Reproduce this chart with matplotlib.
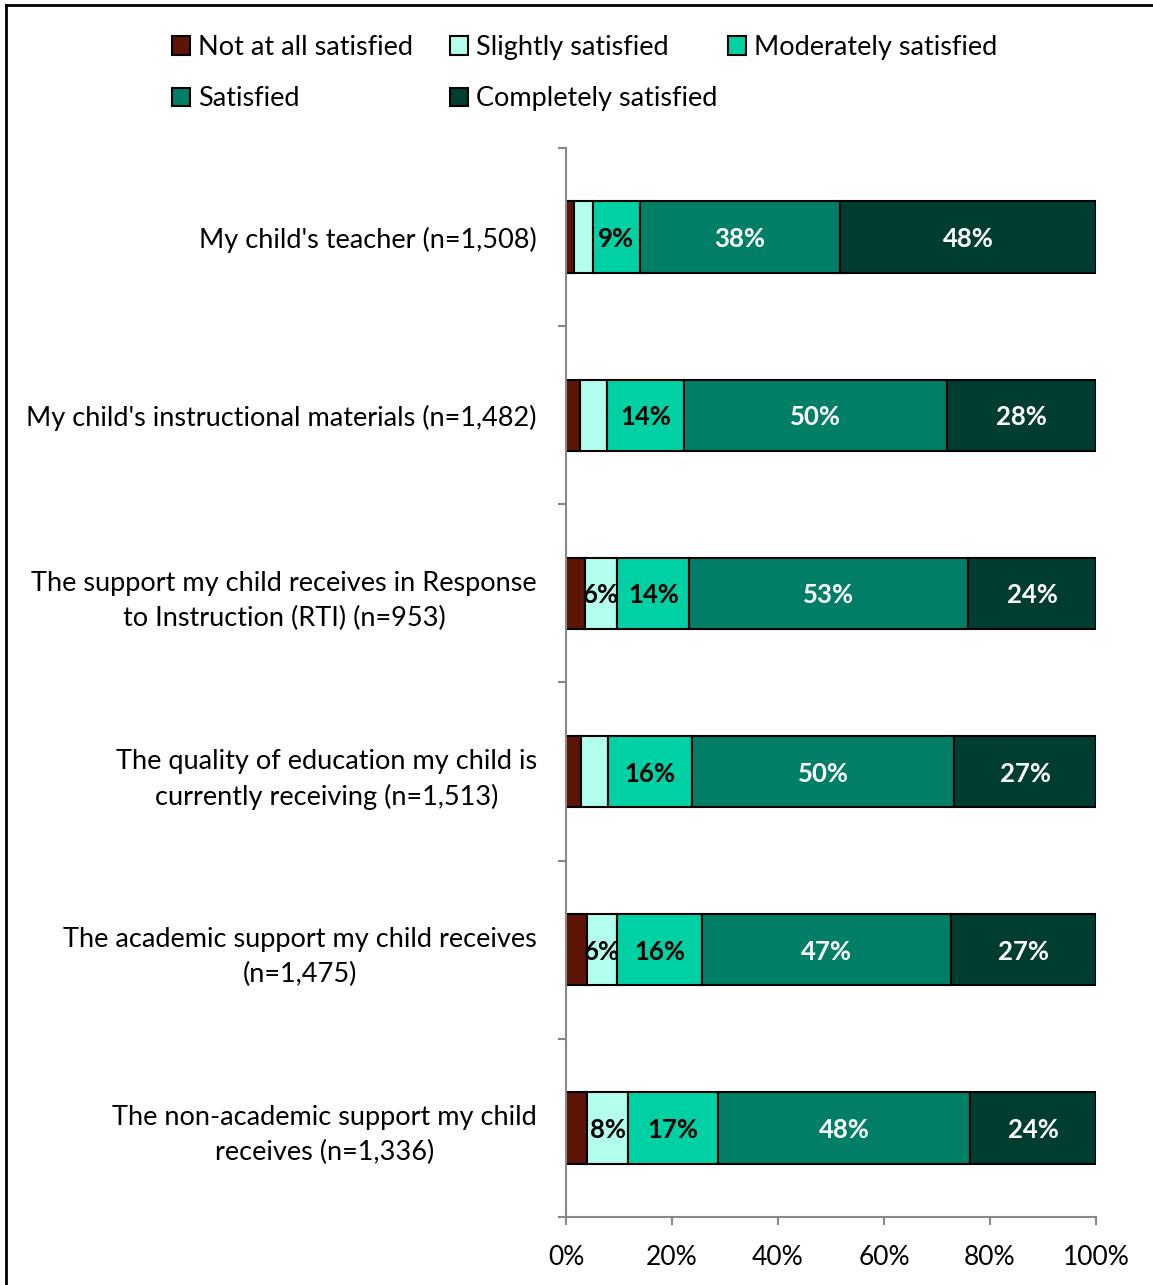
import matplotlib.pyplot as plt
from matplotlib.lines import Line2D
from matplotlib.ticker import FixedLocator, PercentFormatter

plt.rcParams['font.family'] = ['Lato', 'DejaVu Sans']

categories = [
    "My child's teacher (n=1,508)",
    "My child's instructional materials (n=1,482)",
    "The support my child receives in Response\nto Instruction (RTI) (n=953)",
    "The quality of education my child is\ncurrently receiving (n=1,513)",
    "The academic support my child receives\n(n=1,475)",
    "The non-academic support my child\nreceives (n=1,336)",
]

levels = ["Not at all satisfied", "Slightly satisfied", "Moderately satisfied",
          "Satisfied", "Completely satisfied"]

not_at_all = [1.5, 2.6, 3.5, 2.8, 4.0, 4.0]
slightly = [3.6, 5.2, 6.2, 5.1, 5.7, 7.7]
moderately = [8.8, 14.4, 13.6, 15.8, 16.0, 17.0]
satisfied = [37.8, 49.7, 52.6, 49.6, 47.0, 47.6]
completely = [48.3, 28.1, 24.1, 26.7, 27.3, 23.7]

colors = ["#5C1507", "#B3FFEE", "#00D1A5", "#007F66", "#003D31"]
label_colors = [None, "black", "black", "white", "white"]

series = [not_at_all, slightly, moderately, satisfied, completely]

fig = plt.figure(figsize=(11.53, 12.85), dpi=100)
ax = fig.add_axes([566 / 1153, 1 - 1217 / 1285, 530 / 1153, (1217 - 148) / 1285])

y = list(range(len(categories)))
left = [0.0] * len(categories)
handles = []
for vals, name, col, lc in zip(series, levels, colors, label_colors):
    bars = ax.barh(y, vals, left=left, height=0.4, color=col,
                   edgecolor="black", linewidth=1.5, label=name)
    handles.append(bars)
    if lc is not None:
        for yi, v, l in zip(y, vals, left):
            if v >= 5.5:
                ax.text(l + v / 2, yi, f"{round(v)}%", ha="center",
                        va="center_baseline", color=lc, fontsize=18.5,
                        fontweight="bold")
    left = [a + b for a, b in zip(left, vals)]

ax.set_xlim(0, 100)
ax.set_ylim(len(categories) - 0.5, -0.5)
ax.xaxis.set_major_locator(FixedLocator([0, 20, 40, 60, 80, 100]))
ax.xaxis.set_major_formatter(PercentFormatter(decimals=0))
ax.set_yticks(y)
ax.set_yticklabels(categories, fontsize=19.5, linespacing=1.5)
for lbl in ax.get_yticklabels():
    lbl.set_multialignment("center")
ax.yaxis.set_minor_locator(FixedLocator([i - 0.5 for i in range(len(categories) + 1)]))
ax.tick_params(axis="y", which="major", length=0, pad=21)
ax.tick_params(axis="y", which="minor", length=6, color="#888888", width=1.5)
ax.tick_params(axis="x", length=6, color="#888888", width=1.5, labelsize=19, pad=14)

for side in ("top", "right"):
    ax.spines[side].set_visible(False)
for side in ("left", "bottom"):
    ax.spines[side].set_color("#888888")
    ax.spines[side].set_linewidth(1.5)

# legend laid out as three equal-width columns, filled row by row
columns = [[0, 3], [1, 4], [2]]
col_x = [172, 450, 728]
for idx, cx in zip(columns, col_x):
    fig.legend([handles[i] for i in idx], [levels[i] for i in idx],
               loc="upper left", bbox_to_anchor=(cx / 1153, 1 - 35 / 1285),
               ncol=1, frameon=False, fontsize=19.5, handlelength=0.65,
               handleheight=0.65, handletextpad=0.3, labelspacing=0.97,
               borderpad=0, borderaxespad=0)

# outer frame, only left and top edges fall inside the image
fig.add_artist(Line2D([6 / 1153, 6 / 1153], [0, 1 - 5 / 1285], color="black",
                      linewidth=2, transform=fig.transFigure))
fig.add_artist(Line2D([6 / 1153, 1], [1 - 5 / 1285, 1 - 5 / 1285], color="black",
                      linewidth=2, transform=fig.transFigure))

fig.savefig("out.png", dpi=100)
